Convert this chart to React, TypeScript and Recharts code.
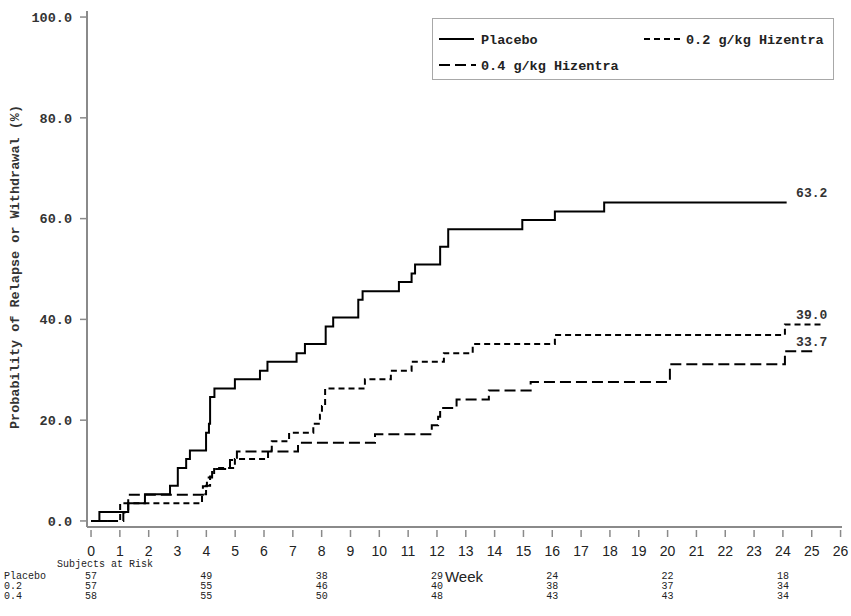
import React from 'react';
import { LineChart, Line, XAxis, YAxis, Legend, ReferenceDot, Label } from 'recharts';

// Kaplan-Meier steps (week of event, cumulative %)
const placeboWeeks = [0, 0.29, 1.29, 1.87, 2.74, 3.01, 3.3, 3.43, 3.99, 4.09, 4.13, 4.28, 4.99, 5.86, 6.12, 7.13, 7.42, 8.14, 8.4, 9.27, 9.42, 10.68, 11.12, 11.24, 12.11, 12.39, 14.96, 16.09, 17.8, 24.13];
const placeboProb = [0, 1.8, 3.5, 5.3, 7.0, 10.5, 12.3, 14.0, 17.5, 19.3, 24.6, 26.3, 28.1, 29.8, 31.6, 33.3, 35.1, 38.6, 40.4, 43.9, 45.6, 47.4, 49.1, 50.9, 54.4, 57.9, 59.7, 61.4, 63.2, 63.2];

const lowDoseWeeks = [0, 1.01, 3.85, 3.99, 4.13, 4.27, 4.99, 6.14, 6.27, 6.87, 7.71, 7.94, 8.01, 8.12, 9.5, 10.4, 11.12, 12.24, 13.24, 16.09, 24.07, 25.34];
const lowDoseProb = [0, 3.5, 5.3, 7.0, 8.8, 10.5, 12.3, 14.0, 15.8, 17.5, 19.3, 21.1, 22.8, 26.3, 28.1, 29.8, 31.6, 33.3, 35.1, 36.9, 39.0, 39.0];

const highDoseWeeks = [0, 1.12, 1.29, 3.88, 4.02, 4.2, 4.82, 5.06, 7.18, 9.85, 11.82, 12.04, 12.11, 12.68, 13.8, 15.25, 20.08, 24.07, 25.08];
const highDoseProb = [0, 1.7, 5.2, 6.9, 8.6, 10.3, 12.1, 13.8, 15.5, 17.2, 19.0, 20.7, 22.4, 24.1, 25.9, 27.6, 31.1, 33.7, 33.7];

// subjects at risk table
const riskWeeks = [0, 4, 8, 12, 16, 20, 24];
const placeboRisk = [57, 49, 38, 29, 24, 22, 18];
const lowDoseRisk = [57, 55, 46, 40, 38, 37, 34];
const highDoseRisk = [58, 55, 50, 48, 43, 43, 34];

const weekTicks = Array.from({ length: 27 }, (_, i) => i);
const probTicks = [0, 20, 40, 60, 80, 100];
const endLabelWeek = 25;

const MONO = '"Courier New", "Liberation Mono", monospace';
const SANS = '"Liberation Sans", Arial, sans-serif';
const FRAME = '#8a8a8a';
const INK = '#222';

const xDomain = [-0.14, 26.05];
const yDomain = [-1.2, 101.2];

const toPoints = (weeks: number[], probs: number[]) =>
  weeks.map((w, i) => ({ week: w, prob: probs[i] }));

// axis ids sort in row order (bottom axes are stacked by id)
const series = [
  { name: 'Placebo', row: 'Placebo', data: toPoints(placeboWeeks, placeboProb), dash: undefined, risk: placeboRisk, id: 'risk1' },
  { name: '0.2 g/kg Hizentra', row: '0.2', data: toPoints(lowDoseWeeks, lowDoseProb), dash: '6 4', risk: lowDoseRisk, id: 'risk2' },
  { name: '0.4 g/kg Hizentra', row: '0.4', data: toPoints(highDoseWeeks, highDoseProb), dash: '11 5', risk: highDoseRisk, id: 'risk3' },
];

function WeekTick({ x, y, payload }: any) {
  return (
    <g>
      <line x1={x} x2={x} y1={y + 3} y2={y + 10} stroke={FRAME} strokeWidth={1.5} />
      <text x={x} y={y + 29} textAnchor="middle" fontFamily={SANS} fontSize={14} fill={INK}>
        {payload.value}
      </text>
    </g>
  );
}

const makeRiskTick = (label: string, counts: number[]) =>
  function RiskTick({ x, y, index }: any) {
    return (
      <g>
        {index === 0 && (
          <text x={4} y={y + 12} fontFamily={MONO} fontSize={10} fill={INK}>
            {label}
          </text>
        )}
        <text x={x} y={y + 12} textAnchor="middle" fontFamily={MONO} fontSize={10} fill={INK}>
          {counts[index]}
        </text>
      </g>
    );
  };

function LegendBox() {
  const sample = (s: any, x1: number, y: number, len: number) => (
    <line x1={x1} x2={x1 + len} y1={y} y2={y} stroke="#000" strokeWidth={2} strokeDasharray={s.dash} />
  );
  const text = (label: string, x: number, y: number) => (
    <text x={x} y={y} fontFamily={MONO} fontWeight="bold" fontSize={13.5} fill={INK}>
      {label}
    </text>
  );
  return (
    <div style={{ border: '1px solid #a8a8a8', background: '#fff', width: 400, height: 60 }}>
      <svg width={400} height={60}>
        {sample(series[0], 6, 20, 35)}
        {text(series[0].name, 48, 25)}
        {sample(series[1], 211, 20, 40)}
        {text(series[1].name, 253, 25)}
        {sample(series[2], 6, 46, 37)}
        {text(series[2].name, 48, 51)}
      </svg>
    </div>
  );
}

export default function App() {
  return (
    <div style={{ position: 'absolute', left: 0, top: 0, background: '#fff' }}>
      <LineChart width={851} height={616} margin={{ top: 11, right: 9, left: 0, bottom: 19 }}>
        <XAxis
          dataKey="week"
          type="number"
          domain={xDomain}
          allowDataOverflow
          ticks={weekTicks}
          interval={0}
          height={40}
          tickSize={0}
          tickMargin={0}
          tickLine={false}
          axisLine={{ stroke: FRAME, strokeWidth: 2 }}
          tick={<WeekTick />}
        >
          <Label
            content={() => (
              <text x={464} y={582} textAnchor="middle" fontFamily={SANS} fontSize={15} fill={INK}>
                Week
              </text>
            )}
          />
        </XAxis>
        {series.map((s) => (
          <XAxis
            key={s.id}
            xAxisId={s.id}
            dataKey="week"
            type="number"
            domain={xDomain}
            allowDataOverflow
            ticks={riskWeeks}
            interval={0}
            height={10}
            tickSize={0}
            tickMargin={0}
            tickLine={false}
            axisLine={false}
            tick={makeRiskTick(s.row, s.risk)}
          >
            {s.id === 'risk1' && (
              <Label
                content={() => (
                  <text x={57} y={567} fontFamily={MONO} fontSize={10} fill={INK}>
                    Subjects at Risk
                  </text>
                )}
              />
            )}
          </XAxis>
        ))}
        <XAxis
          xAxisId="top"
          orientation="top"
          type="number"
          domain={xDomain}
          allowDataOverflow
          height={0}
          tick={false}
          tickLine={false}
          axisLine={{ stroke: FRAME, strokeWidth: 2 }}
        />
        <YAxis
          type="number"
          domain={yDomain}
          allowDataOverflow
          ticks={probTicks}
          interval={0}
          width={87}
          tickSize={7}
          tickMargin={8}
          tickFormatter={(v: number) => v.toFixed(1)}
          tick={{ fontFamily: MONO, fontSize: 13.5, fontWeight: 'bold', fill: '#333' }}
          tickLine={{ stroke: FRAME, strokeWidth: 1.5 }}
          axisLine={{ stroke: FRAME, strokeWidth: 2 }}
        >
          <Label
            content={() => (
              <text
                x={19}
                y={267}
                transform="rotate(-90 19 267)"
                textAnchor="middle"
                fontFamily={MONO}
                fontWeight="bold"
                fontSize={13.5}
                fill="#333"
              >
                Probability of Relapse or Withdrawal (%)
              </text>
            )}
          />
        </YAxis>
        <YAxis
          yAxisId="right"
          orientation="right"
          type="number"
          domain={yDomain}
          allowDataOverflow
          width={0}
          tick={false}
          tickLine={false}
          axisLine={{ stroke: FRAME, strokeWidth: 2 }}
        />
        <Legend
          layout="horizontal"
          verticalAlign="middle"
          align="center"
          wrapperStyle={{ left: 432, top: 18, width: 402 }}
          content={() => <LegendBox />}
        />
        {series.map((s) => (
          <Line
            key={s.name}
            name={s.name}
            data={s.data}
            dataKey="prob"
            type="stepAfter"
            stroke="#000"
            strokeWidth={2}
            strokeDasharray={s.dash}
            dot={false}
            activeDot={false}
            isAnimationActive={false}
          />
        ))}
        {series.map((s) => {
          const last = s.data[s.data.length - 1].prob;
          return (
            <ReferenceDot
              key={'end-' + s.name}
              x={endLabelWeek}
              y={last}
              r={0}
              fill="none"
              stroke="none"
              label={{
                value: last.toFixed(1),
                position: 'top',
                offset: 5,
                fontFamily: MONO,
                fontWeight: 'bold',
                fontSize: 13,
                fill: '#333',
              }}
            />
          );
        })}
      </LineChart>
    </div>
  );
}
